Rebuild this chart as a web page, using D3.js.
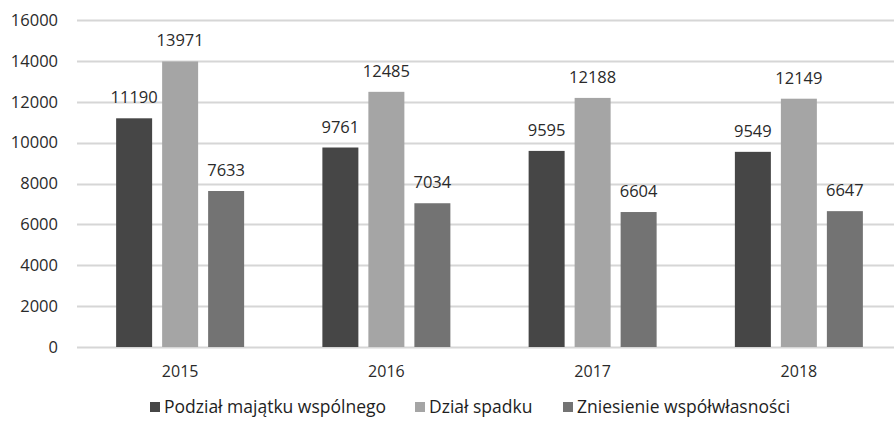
<!DOCTYPE html>
<html>
<head>
<meta charset="utf-8">
<script src="https://cdn.jsdelivr.net/npm/d3@7"></script>
<style>
  html, body { margin: 0; padding: 0; background: #fff; }
  svg { display: block; font-family: "Open Sans", "DejaVu Sans", sans-serif; }
</style>
</head>
<body>
<svg id="chart" width="894" height="422"></svg>
<script>
// Liczba spraw w latach 2015–2018
const years = ["2015", "2016", "2017", "2018"];
const seriesNames = ["Podział majątku wspólnego", "Dział spadku", "Zniesienie współwłasności"];
const podzialMajatku = [11190, 9761, 9595, 9549];
const dzialSpadku = [13971, 12485, 12188, 12149];
const zniesienieWspolwlasnosci = [7633, 7034, 6604, 6647];
const yTicks = [0, 2000, 4000, 6000, 8000, 10000, 12000, 14000, 16000];

const seriesValues = [podzialMajatku, dzialSpadku, zniesienieWspolwlasnosci];
const colors = ["#464646", "#a5a5a5", "#737373"];
const textColor = "#2a2a2a";

const svg = d3.select("#chart");
const margin = { left: 77, right: -8, top: 20, bottom: 75 };
const W = 894, H = 422;

const x = d3.scaleBand().domain(years).range([margin.left, W - margin.right]).padding(0);
const y = d3.scaleLinear().domain([0, 16000]).range([H - margin.bottom, margin.top]);

// gridlines
svg.append("g")
  .selectAll("line")
  .data(yTicks)
  .join("line")
  .attr("x1", margin.left)
  .attr("x2", W)
  .attr("y1", d => Math.round(y(d)) + 0.5)
  .attr("y2", d => Math.round(y(d)) + 0.5)
  .attr("stroke", "#d6d6d6")
  .attr("stroke-width", 2);

// y axis labels
const yAxis = d3.axisLeft(y).tickValues(yTicks).tickFormat(d3.format("d")).tickSize(0).tickPadding(0);
const yg = svg.append("g").attr("transform", `translate(58,0)`).call(yAxis);
yg.select(".domain").remove();
yg.selectAll("text").attr("font-size", 16.5).attr("fill", textColor).attr("font-family", "Open Sans");

// bars
const barW = 36, gap = 10;
const inner = d3.scaleBand().domain(d3.range(3)).range([0, 3 * barW + 2 * gap]).paddingInner(gap / (barW + gap));
const groupOffset = (x.bandwidth() - (3 * barW + 2 * gap)) / 2;

const rows = years.map((yr, i) => seriesValues.map((s, k) => ({ yr, k, v: s[i] })));
const groups = svg.append("g").selectAll("g")
  .data(rows)
  .join("g")
  .attr("transform", (d, i) => `translate(${x(years[i]) + groupOffset},0)`);

groups.selectAll("rect")
  .data(d => d)
  .join("rect")
  .attr("x", d => inner(d.k))
  .attr("width", inner.bandwidth())
  .attr("y", d => y(d.v))
  .attr("height", d => y(0) - y(d.v))
  .attr("fill", d => colors[d.k]);

groups.selectAll("text")
  .data(d => d)
  .join("text")
  .attr("x", d => inner(d.k) + inner.bandwidth() / 2)
  .attr("y", d => y(d.v) - 15)
  .attr("text-anchor", "middle")
  .attr("font-size", 16.5)
  .attr("fill", textColor)
  .text(d => d.v);

// x axis labels
const xAxis = d3.axisBottom(x).tickSize(0).tickPadding(0);
const xg = svg.append("g").attr("transform", `translate(0,${y(0) + 30})`).call(xAxis);
xg.select(".domain").remove();
xg.selectAll("text").attr("font-size", 16).attr("fill", textColor).attr("dy", 0).attr("font-family", "Open Sans");

// legend
const legendX = [150, 415, 563];
const legend = svg.append("g").selectAll("g")
  .data(seriesNames)
  .join("g")
  .attr("transform", (d, i) => `translate(${legendX[i]},413)`);
legend.append("rect").attr("x", 0).attr("y", -11).attr("width", 10).attr("height", 10)
  .attr("fill", (d, i) => colors[i]);
legend.append("text").attr("x", 14).attr("y", 0)
  .attr("font-size", 17.5).attr("fill", "#1e1e1e")
  .text(d => d);
</script>
</body>
</html>
